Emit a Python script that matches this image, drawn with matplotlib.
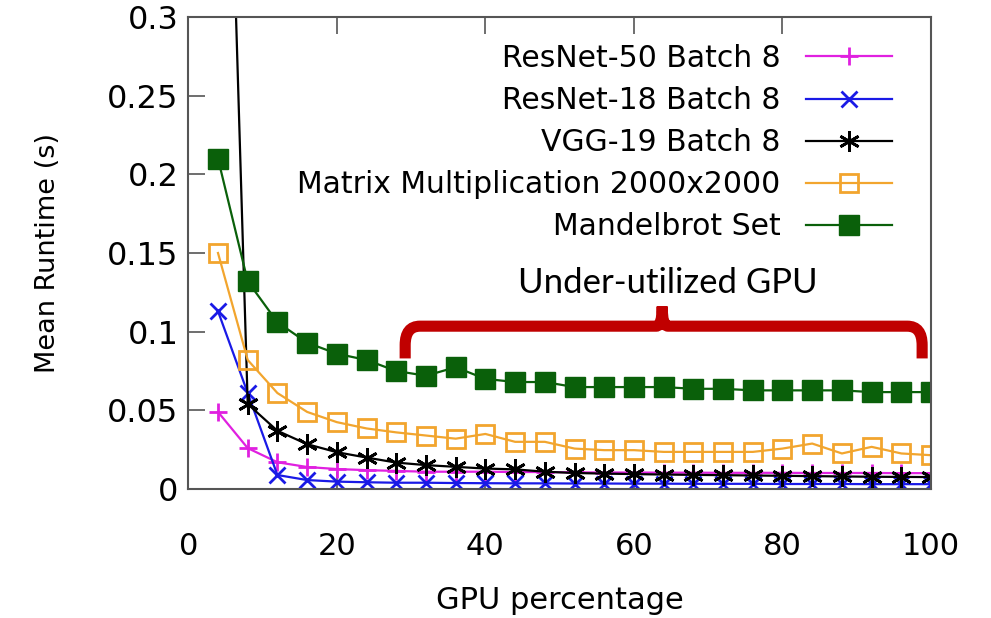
import numpy as np
import matplotlib
matplotlib.use("Agg")
import matplotlib.pyplot as plt
from matplotlib.path import Path
from matplotlib.patches import PathPatch

# GPU share given to the job (%)
gpu_pct = [4, 8, 12, 16, 20, 24, 28, 32, 36, 40, 44, 48, 52,
           56, 60, 64, 68, 72, 76, 80, 84, 88, 92, 96, 100]

# mean runtime in seconds
resnet50 = [0.049, 0.026, 0.017, 0.014, 0.0127, 0.012, 0.0115, 0.011, 0.011,
            0.011, 0.0108, 0.0108, 0.0106, 0.0105, 0.0105, 0.0104, 0.0104,
            0.0103, 0.0103, 0.0103, 0.0102, 0.0102, 0.0102, 0.0101, 0.0101]
resnet18 = [0.113, 0.061, 0.0089, 0.0057, 0.0047, 0.0043, 0.004, 0.004, 0.0038,
            0.0037, 0.0036, 0.0036, 0.0035, 0.0035, 0.0034, 0.0034, 0.0033,
            0.0033, 0.0033, 0.0032, 0.0032, 0.0032, 0.0031, 0.0031, 0.0031]
vgg19 = [0.68, 0.054, 0.037, 0.0285, 0.0234, 0.020, 0.0168, 0.0152, 0.0141,
         0.013, 0.0125, 0.011, 0.0102, 0.0098, 0.0095, 0.0092, 0.009, 0.0088,
         0.0086, 0.0084, 0.0082, 0.008, 0.0078, 0.0077, 0.0076]
matmul = [0.150, 0.082, 0.061, 0.049, 0.0425, 0.0385, 0.036, 0.034, 0.032,
          0.035, 0.030, 0.030, 0.0257, 0.0247, 0.0247, 0.0236, 0.0236, 0.0236,
          0.0236, 0.0257, 0.0289, 0.0226, 0.0268, 0.0226, 0.0215]
mandelbrot = [0.210, 0.132, 0.106, 0.093, 0.086, 0.082, 0.075, 0.072, 0.0774,
              0.070, 0.068, 0.068, 0.0648, 0.0648, 0.0648, 0.0648, 0.0637,
              0.0637, 0.0627, 0.0627, 0.0627, 0.0627, 0.0616, 0.0616, 0.0616]

labels = ["ResNet-50 Batch 8", "ResNet-18 Batch 8", "VGG-19 Batch 8",
          "Matrix Multiplication 2000x2000", "Mandelbrot Set"]

plt.rcParams['font.family'] = ['DejaVu Sans']

fig = plt.figure(figsize=(9.91, 6.18), dpi=100)
ax = fig.add_axes([0.19, 0.2087, 0.7495, 0.7638])

ax.plot(gpu_pct, resnet50, color='#e020e0', lw=1.6, marker='+', ms=13, mew=2, label=labels[0])
ax.plot(gpu_pct, resnet18, color='#1a1ae6', lw=1.6, marker='x', ms=12, mew=2, label=labels[1])
ax.plot(gpu_pct, vgg19, color='black', lw=1.6, marker=(6, 2, 0), ms=15, mew=2, label=labels[2])
ax.plot(gpu_pct, matmul, color='#f2a52e', lw=1.6, marker='s', ms=13, mew=2,
        mfc='none', label=labels[3])
ax.plot(gpu_pct, mandelbrot, color='#0a600a', lw=1.6, marker='s', ms=15, mew=1,
        label=labels[4])

ax.set_xlim(0, 100)
ax.set_ylim(0, 0.3)
ax.set_xticks([0, 20, 40, 60, 80, 100])
ax.set_yticks([0, 0.05, 0.1, 0.15, 0.2, 0.25, 0.3])
ax.set_yticklabels(["0", "0.05", "0.1", "0.15", "0.2", "0.25", "0.3"])
ax.tick_params(axis='y', direction='in', length=12, width=1.2, labelsize=23, pad=7,
               colors='#555555', labelcolor='black')
ax.tick_params(axis='x', direction='in', length=12, width=1.2, labelsize=22, pad=31,
               top=True, colors='#555555', labelcolor='black')
for s in ax.spines.values():
    s.set_color('#555555')
    s.set_linewidth(1.5)

ax.set_xlabel("GPU percentage", fontsize=22, labelpad=18)
ax.set_ylabel("Mean Runtime (s)", fontsize=19.5, labelpad=33)

leg = ax.legend(loc='upper right', bbox_to_anchor=(0.972, 0.981), frameon=False,
                markerfirst=False, fontsize=21.5, handlelength=2.9,
                handletextpad=0.85, labelspacing=0.44, borderaxespad=0.2)

# red bracket over the flat part of the curves
bx0, bx1, bmid = 29.2, 98.8, 63.8
by_low, by_bar, by_tip = 0.083, 0.1035, 0.116
rx, ry = 2.0, 0.012
verts = [(bx0, by_low), (bx0, by_bar - ry), (bx0, by_bar), (bx0 + rx, by_bar),
         (bmid - 0.8, by_bar), (bmid, by_bar), (bmid, by_tip),
         (bmid, by_bar), (bmid + 0.8, by_bar),
         (bx1 - rx, by_bar), (bx1, by_bar), (bx1, by_bar - ry), (bx1, by_low)]
codes = [Path.MOVETO, Path.LINETO, Path.CURVE3, Path.CURVE3,
         Path.LINETO, Path.CURVE3, Path.CURVE3,
         Path.CURVE3, Path.CURVE3,
         Path.LINETO, Path.CURVE3, Path.CURVE3, Path.LINETO]
ax.add_patch(PathPatch(Path(verts, codes), fill=False, ec='#c00000', lw=8,
                       capstyle='butt', joinstyle='miter', zorder=5))
ax.text(64.6, 0.131, "Under-utilized GPU", fontsize=25, family=['Lato', 'DejaVu Sans'],
        ha='center', va='center', zorder=6)

fig.savefig("out.png", dpi=100)
